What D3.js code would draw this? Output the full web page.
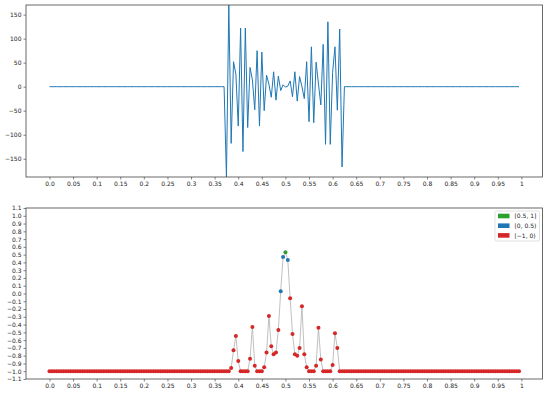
<!DOCTYPE html>
<html><head><meta charset="utf-8">
<script src="https://cdn.jsdelivr.net/npm/d3@7"></script>
<style>body{margin:0;background:#fff}svg{display:block}text{font-family:"DejaVu Sans",sans-serif}</style>
</head><body><svg id="c" width="550" height="395"></svg>
<script>
const xValues = [
0,0.005,0.01,0.015,0.02,0.025,0.03,0.035,0.04,0.045,0.05,0.055,0.06,0.065,0.07,0.075,0.08,0.085,0.09,0.095,
0.1,0.105,0.11,0.115,0.12,0.125,0.13,0.135,0.14,0.145,0.15,0.155,0.16,0.165,0.17,0.175,0.18,0.185,0.19,0.195,
0.2,0.205,0.21,0.215,0.22,0.225,0.23,0.235,0.24,0.245,0.25,0.255,0.26,0.265,0.27,0.275,0.28,0.285,0.29,0.295,
0.3,0.305,0.31,0.315,0.32,0.325,0.33,0.335,0.34,0.345,0.35,0.355,0.36,0.365,0.37,0.375,0.38,0.385,0.39,0.395,
0.4,0.405,0.41,0.415,0.42,0.425,0.43,0.435,0.44,0.445,0.45,0.455,0.46,0.465,0.47,0.475,0.48,0.485,0.49,0.495,
0.5,0.505,0.51,0.515,0.52,0.525,0.53,0.535,0.54,0.545,0.55,0.555,0.56,0.565,0.57,0.575,0.58,0.585,0.59,0.595,
0.6,0.605,0.61,0.615,0.62,0.625,0.63,0.635,0.64,0.645,0.65,0.655,0.66,0.665,0.67,0.675,0.68,0.685,0.69,0.695,
0.7,0.705,0.71,0.715,0.72,0.725,0.73,0.735,0.74,0.745,0.75,0.755,0.76,0.765,0.77,0.775,0.78,0.785,0.79,0.795,
0.8,0.805,0.81,0.815,0.82,0.825,0.83,0.835,0.84,0.845,0.85,0.855,0.86,0.865,0.87,0.875,0.88,0.885,0.89,0.895,
0.9,0.905,0.91,0.915,0.92,0.925,0.93,0.935,0.94,0.945,0.95,0.955,0.96,0.965,0.97,0.975,0.98,0.985,0.99,0.995];

const signalValues = [
0,0,0,0,0,0,0,0,0,0,0,0,0,0,0,0,0,0,0,0,0,0,0,0,0,
0,0,0,0,0,0,0,0,0,0,0,0,0,0,0,0,0,0,0,0,0,0,0,0,0,
0,0,0,0,0,0,0,0,0,0,0,0,0,0,0,0,0,0,0,0,0,0,0,0,0,
-188,170,-118,52,26,-82,122,-135,122,-85,40,14,-48,75,-82,72,-50,24,5,-22,31,-28,22,-8,4,
-1,1,12,-21,31,-30,21,0,-25,52,-73,83,-75,51,6,-38,88,-120,135,-120,30,83,-49,120,-167,
0,0,0,0,0,0,0,0,0,0,0,0,0,0,0,0,0,0,0,0,0,0,0,0,0,
0,0,0,0,0,0,0,0,0,0,0,0,0,0,0,0,0,0,0,0,0,0,0,0,0,
0,0,0,0,0,0,0,0,0,0,0,0,0,0,0,0,0,0,0,0,0,0,0,0,0];

const scoreValues = [
-1,-1,-1,-1,-1,-1,-1,-1,-1,-1,-1,-1,-1,-1,-1,-1,-1,-1,-1,-1,-1,-1,-1,-1,-1,
-1,-1,-1,-1,-1,-1,-1,-1,-1,-1,-1,-1,-1,-1,-1,-1,-1,-1,-1,-1,-1,-1,-1,-1,-1,
-1,-1,-1,-1,-1,-1,-1,-1,-1,-1,-1,-1,-1,-1,-1,-1,-1,-1,-1,-1,-1,-1,-1,-1,-1,
-1,-1,-0.96,-0.73,-0.546,-0.87,-1,-1,-1,-1,-0.84,-0.43,-0.93,-1,-1,-1,-0.95,-0.76,-0.29,-0.68,-0.78,-0.76,-0.47,0.03,0.47,
0.53,0.43,-0.06,-0.52,-0.78,-0.8,-0.7,-0.165,-0.78,-0.95,-1,-1,-1,-0.93,-0.44,-0.85,-1,-1,-1,-1,-0.92,-0.51,-0.7,-1,-1,
-1,-1,-1,-1,-1,-1,-1,-1,-1,-1,-1,-1,-1,-1,-1,-1,-1,-1,-1,-1,-1,-1,-1,-1,-1,
-1,-1,-1,-1,-1,-1,-1,-1,-1,-1,-1,-1,-1,-1,-1,-1,-1,-1,-1,-1,-1,-1,-1,-1,-1,
-1,-1,-1,-1,-1,-1,-1,-1,-1,-1,-1,-1,-1,-1,-1,-1,-1,-1,-1,-1,-1,-1,-1,-1,-1];

const xTickValues = [0,0.05,0.1,0.15,0.2,0.25,0.3,0.35,0.4,0.45,0.5,0.55,0.6,0.65,0.7,0.75,0.8,0.85,0.9,0.95,1];
const xTickLabels = ["0.0","0.05","0.1","0.15","0.2","0.25","0.3","0.35","0.4","0.45","0.5","0.55","0.6","0.65","0.7","0.75","0.8","0.85","0.9","0.95","1"];
const topYTicks = [-150,-100,-50,0,50,100,150];
const bottomYTicks = [-1.1,-1.0,-0.9,-0.8,-0.7,-0.6,-0.5,-0.4,-0.3,-0.2,-0.1,0.0,0.1,0.2,0.3,0.4,0.5,0.6,0.7,0.8,0.9,1.0,1.1];
const legendLabels = ["[0.5, 1]","[0, 0.5)","[\u22121, 0)"];
const legendColors = ["#2ca02c","#1f77b4","#d62728"];

const svg = d3.select("#c");
const L = 26, R = 542.5;
const x = d3.scaleLinear().domain([-0.04975, 1.04475]).range([L, R]);
const yTop = d3.scaleLinear().domain([-188, 170]).range([177, 5]);
const yBot = d3.scaleLinear().domain([-1.1, 1.1]).range([379, 208]);
const minus = s => s.replace("-", "\u2212");

function axes(y, yTicks, yFmt, top, bottom) {
  const gx = svg.append("g").attr("transform", `translate(0,${bottom})`)
    .call(d3.axisBottom(x).tickValues(xTickValues).tickFormat((d,i) => xTickLabels[i]).tickSize(2.5).tickPadding(2));
  const gy = svg.append("g").attr("transform", `translate(${L},0)`)
    .call(d3.axisLeft(y).tickValues(yTicks).tickFormat(yFmt).tickSize(2.5).tickPadding(2));
  [gx, gy].forEach(g => {
    g.select(".domain").remove();
    g.selectAll("line").attr("stroke", "#333").attr("stroke-width", 0.6);
    g.selectAll("text").attr("font-size", 6).attr("fill", "#222");
  });
  svg.append("rect").attr("x", L).attr("y", top).attr("width", R - L).attr("height", bottom - top)
    .attr("fill", "none").attr("stroke", "#444").attr("stroke-width", 0.8);
}

// top chart
const clipTop = svg.append("clipPath").attr("id", "ct").append("rect")
  .attr("x", L).attr("y", 5).attr("width", R - L).attr("height", 172);
svg.append("path").datum(xValues.map((v, i) => [v, signalValues[i]]))
  .attr("clip-path", "url(#ct)")
  .attr("fill", "none").attr("stroke", "#1f77b4").attr("stroke-width", 1)
  .attr("d", d3.line().x(d => x(d[0])).y(d => yTop(d[1])));
axes(yTop, topYTicks, d => minus(String(d)), 5, 177);

// bottom chart
const pts = xValues.map((v, i) => [v, scoreValues[i]]);
svg.append("path").datum(pts)
  .attr("fill", "none").attr("stroke", "#b0b0b0").attr("stroke-width", 0.8)
  .attr("d", d3.line().x(d => x(d[0])).y(d => yBot(d[1])));
const colorOf = v => v >= 0.5 ? legendColors[0] : (v >= 0 ? legendColors[1] : legendColors[2]);
svg.append("g").selectAll("circle").data(pts).join("circle")
  .attr("cx", d => x(d[0])).attr("cy", d => yBot(d[1])).attr("r", 2)
  .attr("fill", d => colorOf(d[1]));
axes(yBot, bottomYTicks, d => minus(d.toFixed(1)), 208, 379);

// legend
const lg = svg.append("g");
lg.append("rect").attr("x", 495).attr("y", 211).attr("width", 44.5).attr("height", 30).attr("rx", 1.5)
  .attr("fill", "#fff").attr("fill-opacity", 0.8).attr("stroke", "#ccc").attr("stroke-width", 0.6);
legendLabels.forEach((t, i) => {
  const cy = 216 + i * 9.7;
  lg.append("rect").attr("x", 498).attr("y", cy - 2.3).attr("width", 11.5).attr("height", 4.6).attr("fill", legendColors[i]);
  lg.append("text").attr("x", 514.5).attr("y", cy + 2.1).attr("font-size", 6).attr("fill", "#222").text(t);
});
</script></body></html>
